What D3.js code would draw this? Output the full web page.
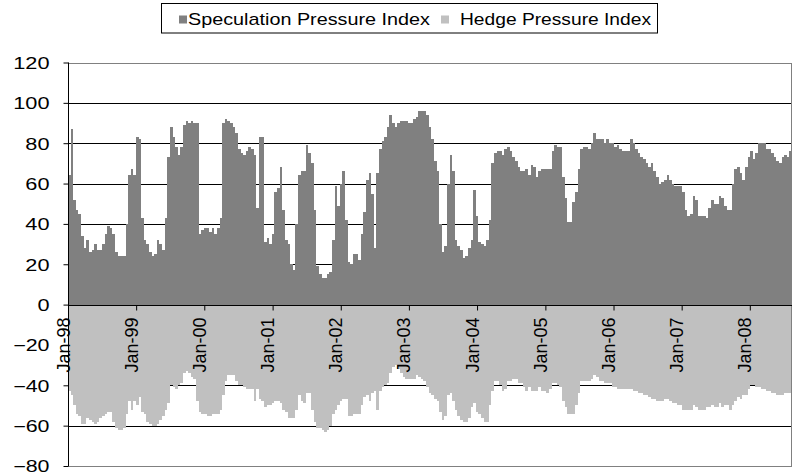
<!DOCTYPE html>
<html><head><meta charset="utf-8">
<script src="https://cdn.jsdelivr.net/npm/d3@7/dist/d3.min.js"></script>
<style>body{margin:0;background:#fff}svg{display:block}</style>
</head><body>
<svg id="chart" width="793" height="474"></svg>
<script>
// ---- data (bi-weekly observations from Jan 1998) ----
const startDate = "1998-01-01";
const stepDays = 14;
const speculation = [
64,87,52,47,45,34,28,32,26,27,30,27,27,30,35,39,38,35,26,24,
24,24,40,64,67,64,83,82,43,32,30,26,24,25,32,30,27,43,73,88,
83,78,74,78,89,91,90,91,90,90,35,37,38,38,36,38,35,38,43,90,
92,91,90,88,85,77,75,74,76,78,77,74,48,83,83,31,33,30,35,56,
58,68,47,32,30,20,17,40,64,66,66,79,75,70,47,19,15,13,13,15,
16,32,59,49,60,66,42,21,20,25,25,22,35,46,62,65,55,28,65,77,
81,83,88,94,90,88,90,91,91,91,90,90,92,93,96,96,96,94,88,82,
71,66,40,26,29,60,74,66,32,29,27,23,24,28,32,57,44,31,30,29,
32,42,70,75,76,76,74,77,78,76,73,71,68,66,66,67,64,69,68,63,
66,67,67,67,67,76,79,78,78,63,53,41,41,51,56,67,77,78,78,77,
80,85,82,82,82,80,82,80,80,78,79,77,76,76,76,82,80,77,75,73,
72,70,68,70,66,63,60,61,62,64,62,60,59,59,59,56,47,44,45,54,
52,44,44,44,43,48,52,50,50,54,53,49,47,47,60,67,68,65,62,68,
73,76,72,75,80,80,80,77,77,75,73,71,70,73,74,73,76
];
const hedge = [
-43,-45,-50,-54,-55,-59,-59,-56,-57,-58,-59,-58,-56,-55,-54,-53,-53,-58,-61,-62,
-62,-61,-54,-48,-52,-48,-50,-46,-53,-54,-58,-59,-60,-60,-59,-57,-55,-52,-49,-40,
-41,-42,-40,-39,-34,-33,-34,-36,-37,-48,-53,-54,-54,-55,-55,-54,-54,-54,-52,-45,
-38,-35,-35,-35,-38,-40,-40,-41,-42,-42,-42,-48,-42,-47,-48,-51,-50,-50,-49,-48,
-48,-49,-52,-53,-56,-56,-56,-52,-45,-48,-49,-44,-44,-52,-58,-61,-61,-62,-63,-62,
-60,-54,-52,-50,-48,-47,-47,-55,-55,-54,-54,-54,-50,-46,-45,-48,-44,-43,-52,-43,
-41,-40,-39,-34,-31,-30,-32,-34,-36,-37,-37,-37,-37,-35,-36,-37,-38,-41,-44,-45,
-47,-48,-53,-57,-55,-45,-44,-48,-52,-55,-57,-58,-58,-56,-51,-49,-53,-54,-56,-58,
-58,-50,-43,-38,-38,-40,-43,-42,-38,-38,-37,-37,-39,-39,-41,-43,-41,-43,-43,-43,
-41,-43,-43,-44,-42,-39,-39,-40,-41,-48,-51,-54,-54,-54,-50,-44,-38,-38,-38,-38,
-37,-35,-36,-38,-38,-39,-39,-39,-41,-41,-42,-42,-42,-42,-42,-42,-43,-43,-44,-44,
-45,-45,-46,-47,-47,-48,-48,-48,-47,-47,-48,-49,-49,-50,-50,-52,-52,-52,-52,-50,
-51,-52,-52,-52,-51,-51,-50,-51,-51,-49,-51,-50,-50,-52,-50,-48,-46,-47,-45,-45,
-42,-40,-40,-41,-41,-42,-42,-43,-43,-44,-44,-45,-45,-45,-44,-44,-44
];
const seriesNames = ["Speculation Pressure Index", "Hedge Pressure Index"];
const seriesColors = ["#808080", "#c0c0c0"];
const yTicks = [-80, -60, -40, -20, 0, 20, 40, 60, 80, 100, 120];
const xTickYears = [1998, 1999, 2000, 2001, 2002, 2003, 2004, 2005, 2006, 2007, 2008];
const xTickLabels = ["Jan-98","Jan-99","Jan-00","Jan-01","Jan-02","Jan-03","Jan-04","Jan-05","Jan-06","Jan-07","Jan-08"];

// ---- layout ----
const plot = {left: 68, right: 792, top: 62.5, bottom: 466};
const svg = d3.select("#chart");
const font = "'Liberation Sans', Arial, sans-serif";

const t0 = d3.timeParse("%Y-%m-%d")(startDate);
const n = speculation.length;
const dates = d3.range(n + 1).map(i => d3.timeDay.offset(t0, i * stepDays));
const x = d3.scaleTime().domain([dates[0], dates[n]]).range([plot.left, plot.right]);
const y = d3.scaleLinear().domain([-80, 120]).range([plot.bottom, plot.top]);

// gridlines (behind bars)
svg.append("g").selectAll("line")
  .data(yTicks.filter(v => v > -80 && v < 120 && v !== 0))
  .join("line")
  .attr("x1", plot.left).attr("x2", plot.right)
  .attr("y1", d => Math.round(y(d)) + 0.5).attr("y2", d => Math.round(y(d)) + 0.5)
  .attr("stroke", "#000").attr("stroke-width", 1);

// bars
const rows = d3.range(n).map(i => ({i, spec: speculation[i], hedge: hedge[i]}));
const bx0 = d => Math.round(x(dates[d.i]));
const bw = d => Math.round(x(dates[d.i + 1])) - Math.round(x(dates[d.i]));
svg.append("g").attr("shape-rendering", "crispEdges").selectAll("rect")
  .data(rows).join("rect")
  .attr("x", bx0).attr("width", bw)
  .attr("y", d => y(d.spec)).attr("height", d => y(0) - y(d.spec))
  .attr("fill", seriesColors[0]);
svg.append("g").attr("shape-rendering", "crispEdges").selectAll("rect")
  .data(rows).join("rect")
  .attr("x", bx0).attr("width", bw)
  .attr("y", y(0)).attr("height", d => y(d.hedge) - y(0))
  .attr("fill", seriesColors[1]);

// plot border (gray)
svg.append("rect")
  .attr("x", plot.left + 0.5).attr("y", Math.round(plot.top) + 0.5)
  .attr("width", plot.right - plot.left - 1).attr("height", Math.round(plot.bottom) - Math.round(plot.top))
  .attr("fill", "none").attr("stroke", "#808080");

// y axis
const yAxis = d3.axisLeft(y).tickValues(yTicks).tickSize(5).tickFormat(d3.format("d"));
const gy = svg.append("g").attr("transform", `translate(${plot.left + 0.5},0)`).call(yAxis);
gy.select(".domain").attr("stroke", "#000").attr("d", `M0,${plot.top}V${plot.bottom}`);
gy.selectAll(".tick line").attr("stroke", "#000");
gy.selectAll(".tick text")
  .attr("x", -19).attr("dy", "0.36em")
  .attr("font-family", font).attr("font-size", 16.3).attr("fill", "#000")
  .attr("textLength", function(){ return 12.1 * this.textContent.length; })
  .attr("lengthAdjust", "spacingAndGlyphs");

// x axis at zero
const xTickDates = xTickYears.map(yr => new Date(yr, 0, 1));
const xAxis = d3.axisBottom(x).tickValues(xTickDates).tickSize(5)
  .tickFormat((d, i) => xTickLabels[i]);
const gx = svg.append("g").attr("transform", `translate(0,${Math.round(y(0)) + 0.5})`).call(xAxis);
gx.select(".domain").attr("stroke", "#000").attr("d", `M${plot.left},0H${plot.right}`);
gx.selectAll(".tick line").attr("stroke", "#000");
gx.selectAll(".tick text")
  .attr("font-family", font).attr("font-size", 18).attr("fill", "#000")
  .attr("text-anchor", "end")
  .attr("x", 0).attr("y", 0).attr("dy", "0")
  .attr("transform", "translate(1,12) rotate(-90)");

// legend
const lg = svg.append("g");
lg.append("rect").attr("x", 161.5).attr("y", 3.5).attr("width", 496).attr("height", 29.5)
  .attr("fill", "#fff").attr("stroke", "#000");
const legendItems = [
  {name: seriesNames[0], color: seriesColors[0], sx: 179, tx: 188, len: 242},
  {name: seriesNames[1], color: seriesColors[1], sx: 441, tx: 460, len: 191}
];
legendItems.forEach(it => {
  lg.append("rect").attr("x", it.sx).attr("y", 15.5).attr("width", 8).attr("height", 8).attr("fill", it.color);
  lg.append("text").attr("x", it.tx).attr("y", 25)
    .attr("font-family", font).attr("font-size", 17).attr("fill", "#000")
    .attr("textLength", it.len).attr("lengthAdjust", "spacingAndGlyphs")
    .text(it.name);
});
</script>
</body></html>
